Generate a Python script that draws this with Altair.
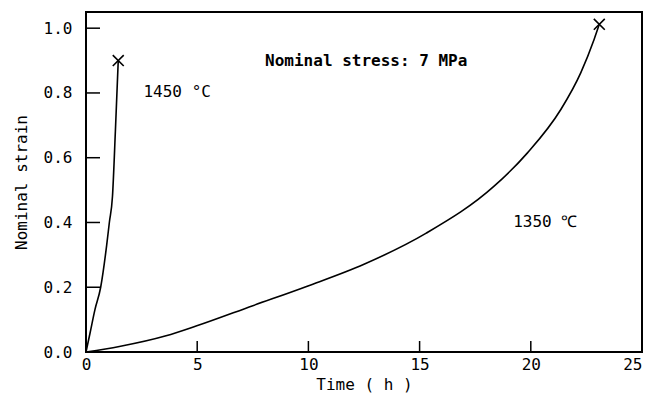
import altair as alt
import pandas as pd

# 1450 °C creep curve (time h, nominal strain)
t1450 = [0.0, 0.18, 0.4, 0.66, 0.93, 1.05, 1.19, 1.32, 1.45]
e1450 = [0.0, 0.058, 0.13, 0.2, 0.33, 0.4, 0.48, 0.68, 0.9]
# 1350 °C creep curve
t1350 = [0.0, 1.5, 3.6, 4.95, 7.5, 9.98, 12.5, 15.3, 18.35, 19.85, 21.35, 22.25, 22.85, 23.08]
e1350 = [0.0, 0.017, 0.05, 0.08, 0.143, 0.204, 0.271, 0.367, 0.512, 0.615, 0.749, 0.863, 0.966, 1.012]
# rupture points
rup_t = [1.45, 23.08]
rup_e = [0.9, 1.012]
# annotations
title_text = ["Nominal stress: 7 MPa"]
title_x = [12.6]
title_y = [0.899]
lab_text = ["1450 °C", "1350 ℃"]
lab_x = [4.1, 20.65]
lab_y = [0.802, 0.403]
# inward ticks
xticks = [5, 10, 15, 20]
yticks = [0.2, 0.4, 0.6, 0.8, 1.0]

W, H = 556, 340
FONT = "DejaVu Sans Mono"
FS = 16

df = pd.concat([
    pd.DataFrame({"t": t1450, "e": e1450, "s": "1450"}),
    pd.DataFrame({"t": t1350, "e": e1350, "s": "1350"}),
])
xs = alt.Scale(domain=[0, 25], nice=False)
ys = alt.Scale(domain=[0, 1.05], nice=False)

lines = alt.Chart(df).mark_line(color="black", strokeWidth=1.6, interpolate="monotone").encode(
    x=alt.X("t:Q", scale=xs, axis=alt.Axis(
        title="Time ( h )", values=[0, 5, 10, 15, 20, 25], format="d",
        ticks=False, domain=False, grid=False, labelFont=FONT, labelFontSize=FS,
        labelColor="black", labelPadding=4, titleFont=FONT, titleFontSize=FS,
        labelAlign=alt.expr("datum.value == 25 ? 'right' : 'center'"),
        titleFontWeight="normal", titleColor="black", titlePadding=4, labelFlush=False)),
    y=alt.Y("e:Q", scale=ys, axis=alt.Axis(
        title="Nominal strain", values=[0, 0.2, 0.4, 0.6, 0.8, 1.0], format=".1f",
        ticks=False, domain=False, grid=False, labelFont=FONT, labelFontSize=FS,
        labelColor="black", labelPadding=14, titleFont=FONT, titleFontSize=FS,
        titleFontWeight="normal", titleColor="black", titlePadding=14)),
    detail="s:N",
)

rup = alt.Chart(pd.DataFrame({"t": rup_t, "e": rup_e})).mark_point(
    shape="M-1,-1L1,1M-1,1L1,-1", filled=False, color="black", strokeWidth=1.6, size=120, opacity=1
).encode(x=alt.X("t:Q", scale=xs), y=alt.Y("e:Q", scale=ys))

ann1 = alt.Chart(pd.DataFrame({"x": title_x, "y": title_y, "txt": title_text})).mark_text(
    font=FONT, fontSize=FS, fontWeight="bold", color="black", align="center", baseline="middle"
).encode(x=alt.X("x:Q", scale=xs), y=alt.Y("y:Q", scale=ys), text="txt:N")

ann2 = alt.Chart(pd.DataFrame({"x": lab_x, "y": lab_y, "txt": lab_text})).mark_text(
    font=FONT, fontSize=FS, color="black", align="center", baseline="middle"
).encode(x=alt.X("x:Q", scale=xs), y=alt.Y("y:Q", scale=ys), text="txt:N")

xt = alt.Chart(pd.DataFrame({"v": xticks})).mark_rule(color="black", strokeWidth=1.5).encode(
    x=alt.X("v:Q", scale=xs), y=alt.value(H), y2=alt.value(H - 11))
yt = alt.Chart(pd.DataFrame({"v": yticks})).mark_rule(color="black", strokeWidth=1.5).encode(
    y=alt.Y("v:Q", scale=ys), x=alt.value(0), x2=alt.value(14))

chart = alt.layer(lines, rup, ann1, ann2, xt, yt).properties(
    width=W, height=H,
    autosize=alt.AutoSizeParams(type="none"),
    padding={"left": 78, "top": 4, "right": 1, "bottom": 43},
).configure_view(stroke="black", strokeWidth=2)

chart.save("out.html", embed_options={"renderer": "svg", "actions": False})
